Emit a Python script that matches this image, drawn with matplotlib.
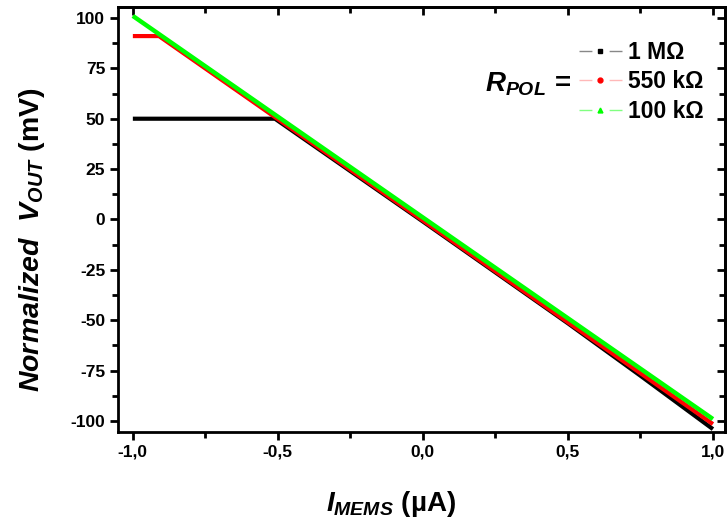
import matplotlib
matplotlib.use("Agg")
import matplotlib.pyplot as plt
from matplotlib.lines import Line2D
from matplotlib.ticker import MultipleLocator, FuncFormatter

# ----------------------------
# Data
# ----------------------------
i_1M = [-1.0, -0.51, 0.0, 0.5, 0.75, 1.0]
v_1M = [50.0, 50.0, -1.0, -51.5, -77.5, -104.0]

i_550k = [-1.0, -0.91, 0.0, 0.5, 1.0]
v_550k = [91.0, 91.0, -0.5, -51.0, -101.5]

i_100k = [-1.0, 0.0, 0.5, 1.0]
v_100k = [101.0, 1.0, -49.0, -99.0]

labels = ["1 M\u03a9", "550 k\u03a9", "100 k\u03a9"]
colors = ["#000000", "#ff0000", "#00ff00"]
light = ["#888888", "#ffb8b8", "#80ff80"]
markers = ["s", "o", "^"]

# ----------------------------
# Fonts
# ----------------------------
plt.rcParams["font.family"] = ["Liberation Sans", "DejaVu Sans"]
plt.rcParams["font.weight"] = "bold"
plt.rcParams["mathtext.fontset"] = "custom"
plt.rcParams["mathtext.rm"] = "Liberation Sans:bold"
plt.rcParams["mathtext.bf"] = "Liberation Sans:bold"
plt.rcParams["mathtext.it"] = "Liberation Sans:italic:bold"

fig = plt.figure(figsize=(7.27, 5.27), dpi=100)
ax = fig.add_axes([0.162, 0.180, 0.835, 0.807])

ax.plot(i_1M, v_1M, color=colors[0], lw=3.0, solid_capstyle="butt", zorder=2)
ax.plot(i_550k, v_550k, color=colors[1], lw=3.0, solid_capstyle="butt", zorder=3)
ax.plot(i_100k, v_100k, color=colors[2], lw=3.2, solid_capstyle="butt", zorder=4)

ax.set_xlim(-1.052, 1.041)
ax.set_ylim(-105.5, 105.5)

ax.xaxis.set_major_locator(MultipleLocator(0.5))
ax.xaxis.set_minor_locator(MultipleLocator(0.25))
ax.yaxis.set_major_locator(MultipleLocator(25))
ax.yaxis.set_minor_locator(MultipleLocator(12.5))
ax.xaxis.set_major_formatter(FuncFormatter(lambda v, p: f"{v:.1f}".replace(".", ",")))
ax.yaxis.set_major_formatter(FuncFormatter(lambda v, p: f"{v:.0f}"))

for s in ax.spines.values():
    s.set_linewidth(2.0)

ax.tick_params(which="major", direction="out", length=6, width=2, labelsize=12.5, pad=3)
ax.tick_params(which="minor", direction="out", length=4, width=2)

# inward ticks on top and right
top = ax.secondary_xaxis("top")
top.xaxis.set_major_locator(MultipleLocator(0.5))
top.xaxis.set_minor_locator(MultipleLocator(0.25))
top.tick_params(which="major", direction="in", length=6, width=2, labeltop=False)
top.tick_params(which="minor", direction="in", length=4, width=2)
right = ax.secondary_yaxis("right")
right.yaxis.set_major_locator(MultipleLocator(25))
right.yaxis.set_minor_locator(MultipleLocator(12.5))
right.tick_params(which="major", direction="in", length=6, width=2, labelright=False)
right.tick_params(which="minor", direction="in", length=4, width=2)
for sec in (top, right):
    for s in sec.spines.values():
        s.set_linewidth(2.0)

ax.set_xlabel("$I_{MEMS}\\ \\mathrm{(\u00b5A)}$", fontsize=20)
ax.set_ylabel(r"$Normalized\ \ V_{OUT}\ \mathrm{(mV)}$", fontsize=20.5)
ax.xaxis.set_label_coords(0.45, -0.134)
ax.yaxis.set_label_coords(-0.117, 0.452)

# ----------------------------
# Legend
# ----------------------------
handles = [
    Line2D([], [], color=light[k], lw=1.0, linestyle=(0, (9.3, 12.4)),
           marker=markers[k], markersize=3.5, markerfacecolor=colors[k],
           markeredgecolor=colors[k])
    for k in range(3)
]
leg = ax.legend(handles, labels, loc="center left", bbox_to_anchor=(0.759, 0.8235),
                frameon=False, fontsize=16.5, handlelength=1.88, handletextpad=0.3,
                labelspacing=0.28, borderpad=0, borderaxespad=0)

ax.text(0.748, 0.80, r"$R_{POL}\,\mathrm{=}$", transform=ax.transAxes,
        ha="right", va="baseline", fontsize=20)

fig.savefig("out.png", dpi=100)
